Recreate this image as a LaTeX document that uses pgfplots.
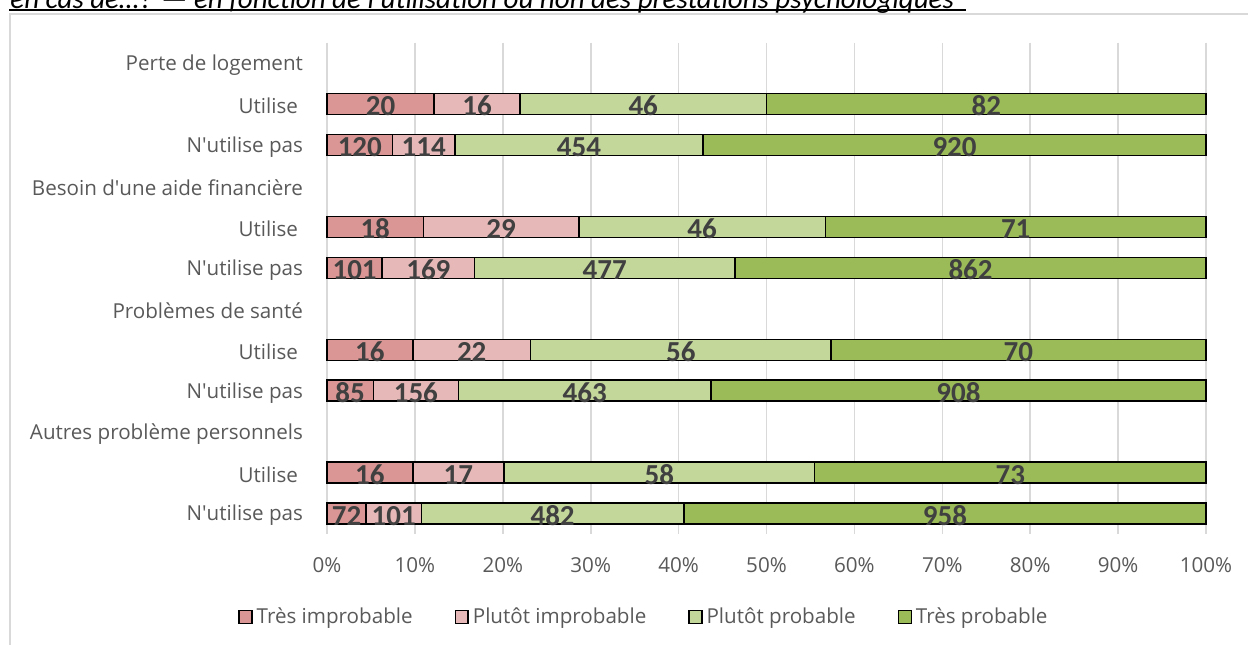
\documentclass[border=0pt]{standalone}
\usepackage{pgfplots}
\pgfplotsset{compat=1.18}
\usepackage{fontspec}
\setmainfont{Open Sans}
\newfontfamily\carlito{Carlito}
\definecolor{c1}{HTML}{DA9694}
\definecolor{c2}{HTML}{E6B9B8}
\definecolor{c3}{HTML}{C4D79B}
\definecolor{c4}{HTML}{9BBB59}
\definecolor{txt}{HTML}{595959}
\definecolor{lbl}{HTML}{404040}
\definecolor{grd}{HTML}{D9D9D9}

\pgfplotsset{
  panel/.style={
    at={(163.5pt,-21.25pt)}, anchor=north west,
    scale only axis, width=439.5pt, height=245.8pt,
    xmin=0, xmax=100, ymin=0.5, ymax=12.5, y dir=reverse, clip=false,
  },
}

\begin{document}
\begin{tikzpicture}
\useasboundingbox (0,0) rectangle (624pt,-322pt);
\clip (0,0) rectangle (624pt,-322pt);
% chart frame (runs off the right and bottom edge)
\draw[grd, line width=1pt] (4.9pt,-7pt) rectangle (700pt,-400pt);
% cut-off title
\node[anchor=base west, inner sep=0pt, font=\carlito\itshape\fontsize{14.5}{16}\selectfont]
  at (5pt,-4pt) {en cas de…? — en fonction de l'utilisation ou non des prestations psychologiques};
\draw[black, line width=0.8pt] (4.5pt,-5pt) -- (483pt,-5pt);

% bars (shares of each row, in %)
\begin{axis}[
  panel,
  xbar stacked, bar width=10.5pt,
  xtick={0,10,...,100},
  xticklabels={0\%,10\%,20\%,30\%,40\%,50\%,60\%,70\%,80\%,90\%,100\%},
  ytick={1,...,12},
  yticklabels={Perte de logement, Utilise\kern2.5pt, N\textquotesingle utilise pas,
    Besoin d\textquotesingle une aide financière, Utilise\kern2.5pt, N\textquotesingle utilise pas,
    Problèmes de santé, Utilise\kern2.5pt, N\textquotesingle utilise pas,
    Autres problème personnels, Utilise\kern2.5pt, N\textquotesingle utilise pas},
  xmajorgrids, major grid style={grd, line width=0.8pt},
  axis line style={draw=none}, tick style={draw=none},
  ticklabel style={font=\fontsize{10.3}{12}\selectfont, text=txt},
  xticklabel style={yshift=-8pt},
  yticklabel style={xshift=-8.5pt, yshift=-1pt},
  legend columns=4,
  legend style={at={(-0.108,-0.1689)}, anchor=west, draw=none, fill=none,
    font=\fontsize{10.3}{12}\selectfont, text=txt,
    /tikz/every even column/.append style={column sep=19pt}},
  legend image code/.code={\draw[#1, line width=0.7pt] (0pt,-3.2pt) rectangle (6.4pt,3.2pt);},
]
% Très improbable
\addplot[fill=c1, draw=black, line width=0.75pt] coordinates {
  (12.195,2) (7.463,3) (10.976,5) (6.277,6)
  (9.756,8) (5.273,9) (9.756,11) (4.464,12)};
\addlegendentry{Très improbable}
% Plutôt improbable
\addplot[fill=c2, draw=black, line width=0.75pt] coordinates {
  (9.756,2) (7.090,3) (17.683,5) (10.503,6)
  (13.415,8) (9.677,9) (10.366,11) (6.262,12)};
\addlegendentry{Plutôt improbable}
% Plutôt probable
\addplot[fill=c3, draw=black, line width=0.75pt] coordinates {
  (28.049,2) (28.234,3) (28.049,5) (29.646,6)
  (34.146,8) (28.722,9) (35.366,11) (29.882,12)};
\addlegendentry{Plutôt probable}
% Très probable
\addplot[fill=c4, draw=black, line width=0.75pt] coordinates {
  (50.000,2) (57.214,3) (43.293,5) (53.574,6)
  (42.683,8) (56.328,9) (44.512,11) (59.392,12)};
\addlegendentry{Très probable}
\end{axis}

% counts, at the middle of each segment
\begin{axis}[
  panel, hide axis,
  point meta=explicit symbolic,
  nodes near coords,
  nodes near coords align=center,
  every node near coord/.append style={font=\carlito\bfseries\fontsize{14.5}{15}\selectfont,
    text=lbl, anchor=center, inner sep=0pt, yshift=-1pt},
]
\addplot[only marks, mark=none] coordinates {
  (6.098,2) [20] (17.073,2) [16] (35.976,2) [46] (75.000,2) [82]
  (3.731,3) [120] (11.008,3) [114] (28.670,3) [454] (71.393,3) [920]
  (5.488,5) [18] (19.817,5) [29] (42.683,5) [46] (78.354,5) [71]
  (3.139,6) [101] (11.529,6) [169] (31.603,6) [477] (73.213,6) [862]
  (4.878,8) [16] (16.463,8) [22] (40.244,8) [56] (78.659,8) [70]
  (2.636,9) [85] (10.112,9) [156] (29.311,9) [463] (71.836,9) [908]
  (4.878,11) [16] (14.939,11) [17] (37.805,11) [58] (77.744,11) [73]
  (2.232,12) [72] (7.595,12) [101] (25.667,12) [482] (70.304,12) [958]};
\end{axis}
\end{tikzpicture}
\end{document}
